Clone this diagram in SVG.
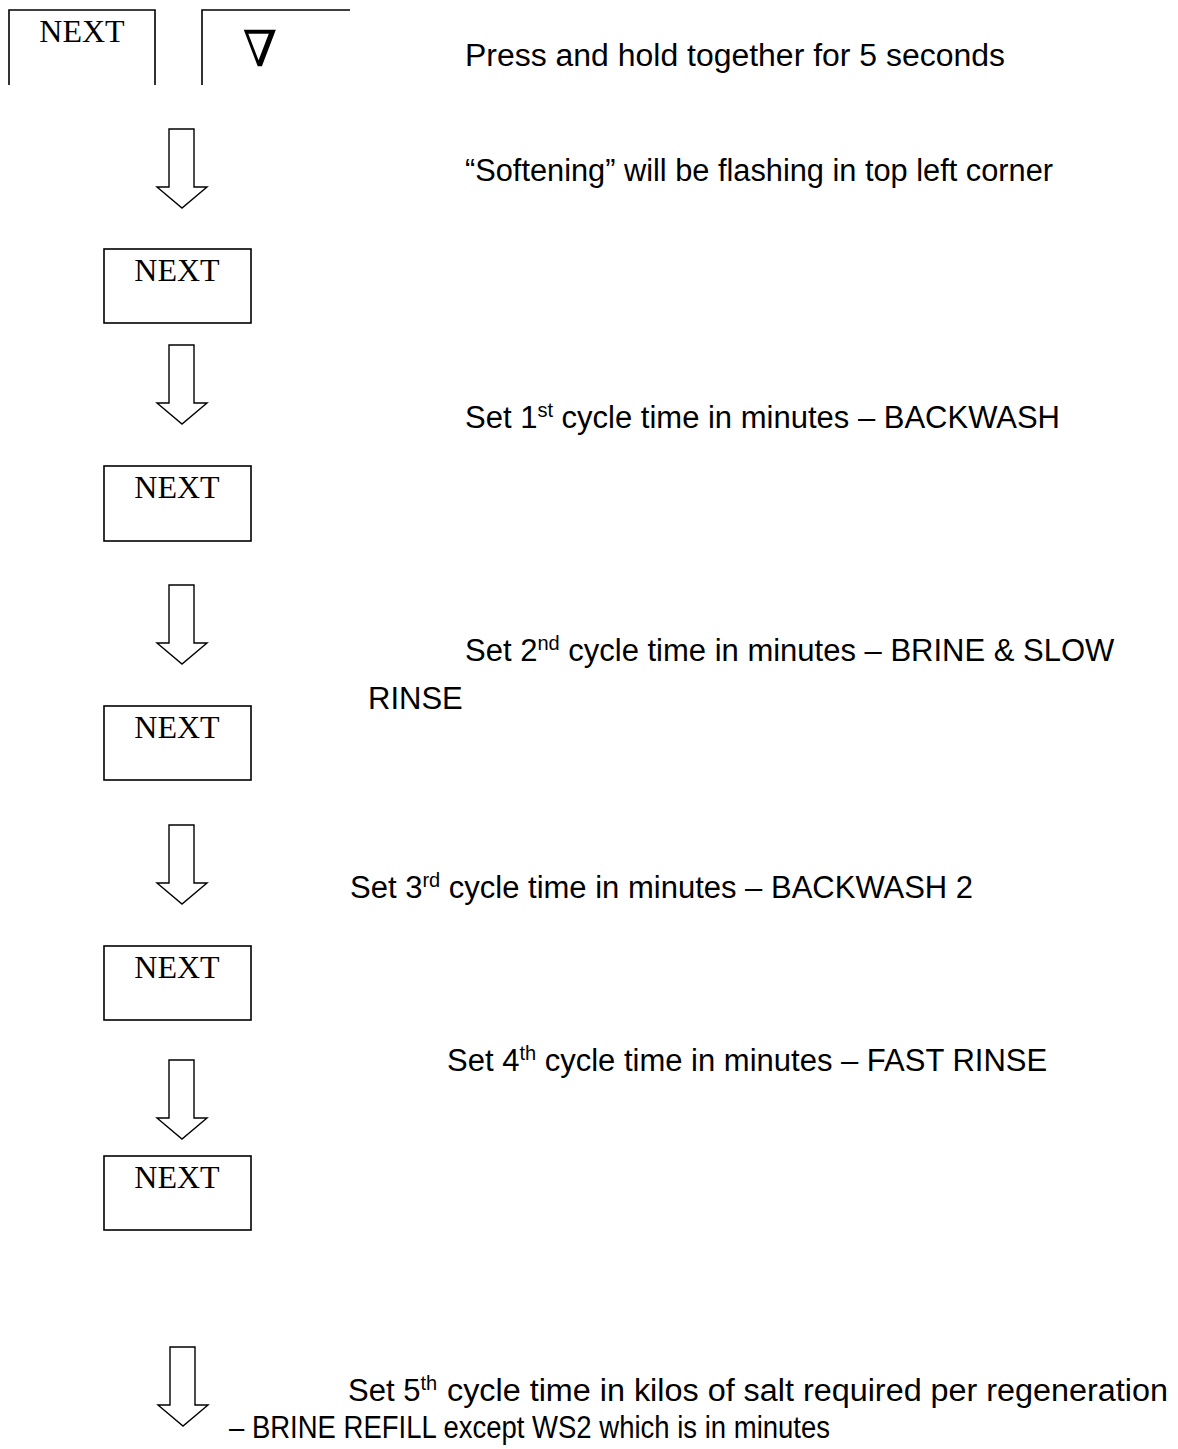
<svg xmlns="http://www.w3.org/2000/svg" width="1178" height="1449" viewBox="0 0 1178 1449">
<style>
.box{fill:none;stroke:#000;stroke-width:1.6}
.arr{fill:#fff;stroke:#000;stroke-width:1.4;stroke-linejoin:miter}
.btn{font-family:"Liberation Serif","Times New Roman",serif;font-size:32px;fill:#000;text-anchor:middle}
.t{font-family:"Liberation Sans",Arial,sans-serif;font-size:31px;fill:#000}
.sup{font-size:20px}
</style>
<defs>
<path id="arrow" d="M-13,0 H12 V58 H25 L0,79 L-25,58 H-13 Z"/>
</defs>
<rect width="1178" height="1449" fill="#fff"/>
<g id="btn-next-top">
<path class="box" d="M9,85 V10 H155 V85"/>
<text class="btn" x="82" y="42">NEXT</text>
</g>
<g id="btn-down">
<path class="box" d="M202,85 V10 H350"/>
<text x="260" y="66" font-family="DejaVu Serif,serif" font-size="50" text-anchor="middle">∇</text>
</g>
<g id="next2"><rect class="box" x="104" y="249" width="147" height="74"/><text class="btn" x="177" y="281">NEXT</text></g>
<g id="next3"><rect class="box" x="104" y="466" width="147" height="75"/><text class="btn" x="177" y="498">NEXT</text></g>
<g id="next4"><rect class="box" x="104" y="706" width="147" height="74"/><text class="btn" x="177" y="738">NEXT</text></g>
<g id="next5"><rect class="box" x="104" y="946" width="147" height="74"/><text class="btn" x="177" y="978">NEXT</text></g>
<g id="next6"><rect class="box" x="104" y="1156" width="147" height="74"/><text class="btn" x="177" y="1188">NEXT</text></g>
<g id="connectors">
<use href="#arrow" class="arr" x="182" y="129"/>
<use href="#arrow" class="arr" x="182" y="345"/>
<use href="#arrow" class="arr" x="182" y="585"/>
<use href="#arrow" class="arr" x="182" y="825"/>
<use href="#arrow" class="arr" x="182" y="1060"/>
<use href="#arrow" class="arr" x="183" y="1347"/>
</g>
<g id="labels">
<text class="t" x="465" y="66" textLength="540" lengthAdjust="spacingAndGlyphs">Press and hold together for 5 seconds</text>
<text class="t" x="465" y="181" textLength="588" lengthAdjust="spacingAndGlyphs">“Softening” will be flashing in top left corner</text>
<text class="t" x="465" y="428">Set 1<tspan class="sup" dy="-11">st</tspan><tspan dy="11"> cycle time in minutes – BACKWASH</tspan></text>
<text class="t" x="465" y="661">Set 2<tspan class="sup" dy="-11">nd</tspan><tspan dy="11"> cycle time in minutes – BRINE &amp; SLOW</tspan></text>
<text class="t" x="368" y="709">RINSE</text>
<text class="t" x="350" y="898">Set 3<tspan class="sup" dy="-11">rd</tspan><tspan dy="11"> cycle time in minutes – BACKWASH 2</tspan></text>
<text class="t" x="447" y="1071">Set 4<tspan class="sup" dy="-11">th</tspan><tspan dy="11"> cycle time in minutes – FAST RINSE</tspan></text>
<text class="t" x="348" y="1401">Set 5<tspan class="sup" dy="-11">th</tspan></text>
<text class="t" x="447" y="1401" textLength="721" lengthAdjust="spacingAndGlyphs">cycle time in kilos of salt required per regeneration</text>
<text class="t" x="229" y="1438" textLength="601" lengthAdjust="spacingAndGlyphs">– BRINE REFILL except WS2 which is in minutes</text>
</g>
</svg>
